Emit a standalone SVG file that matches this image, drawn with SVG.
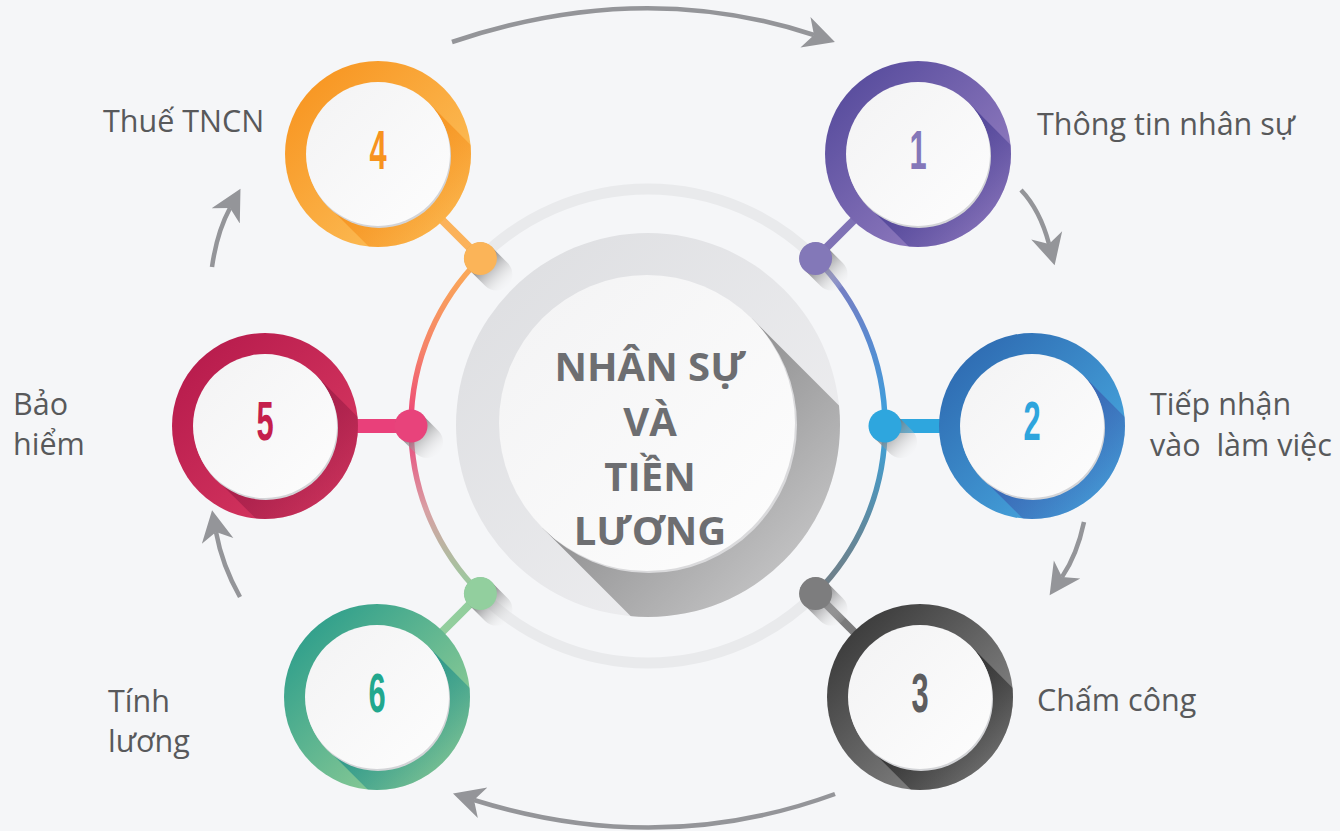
<svg xmlns="http://www.w3.org/2000/svg" width="1340" height="831" viewBox="0 0 1340 831">
  <style>
    .label { font-family: "Open Sans", "Liberation Sans", sans-serif; font-size: 30.5px; fill: #58595b; }
    .num { font-family: "Liberation Sans", "DejaVu Sans", sans-serif; font-weight: 700; font-size: 56px; text-anchor: middle; }
    .title { font-family: "Open Sans", "Liberation Sans", sans-serif; font-weight: 700; font-size: 40px; fill: #6d6e71; text-anchor: middle; }
    .face { fill: url(#faceGrad); }
    .rim { fill: #d3d4d7; }
    .arrow { fill: none; stroke: #949599; stroke-width: 4.5; marker-end: url(#ah); }
    .stem { stroke-width: 8; }
    .bar { stroke-width: 14; }
    .dotsh { stroke: url(#dotShadow); stroke-width: 32; stroke-linecap: round; }
  </style>
  <defs>
    <marker id="ah" markerUnits="userSpaceOnUse" markerWidth="34" markerHeight="34" viewBox="0 0 34 34" refX="9" refY="17" orient="auto">
      <path d="M0,1 L31,17 L0,33 L9,17 Z" fill="#949599"/>
    </marker>
    <clipPath id="ringClip"><circle r="93"/></clipPath>
    <clipPath id="hubClip"><circle cx="648" cy="425" r="192"/></clipPath>
    <linearGradient id="faceGrad" x1="0" y1="0" x2="1" y2="1">
      <stop offset="0" stop-color="#f3f3f4"/>
      <stop offset="1" stop-color="#fdfdfd"/>
    </linearGradient>
    <linearGradient id="dotShadow" gradientUnits="userSpaceOnUse" x1="0" y1="0" x2="30" y2="30">
      <stop offset="0" stop-color="#5e5e60" stop-opacity="0.9"/>
      <stop offset="1" stop-color="#ffffff" stop-opacity="0"/>
    </linearGradient>
    <linearGradient id="hubGrad" x1="0" y1="0" x2="1" y2="1">
      <stop offset="0" stop-color="#dcdde0"/>
      <stop offset="1" stop-color="#f1f1f3"/>
    </linearGradient>
    <linearGradient id="hubShadow" gradientUnits="userSpaceOnUse" x1="700" y1="380" x2="860" y2="540">
      <stop offset="0" stop-color="#909091"/>
      <stop offset="1" stop-color="#c9c9ca"/>
    </linearGradient>
    <linearGradient id="rightArc" gradientUnits="userSpaceOnUse" x1="0" y1="258" x2="0" y2="594">
      <stop offset="0" stop-color="#8279bd"/>
      <stop offset="0.25" stop-color="#5a8ad0"/>
      <stop offset="0.5" stop-color="#3ba3dd"/>
      <stop offset="0.8" stop-color="#5f8aa0"/>
      <stop offset="1" stop-color="#737d84"/>
    </linearGradient>
    <linearGradient id="leftArc" gradientUnits="userSpaceOnUse" x1="0" y1="258" x2="0" y2="594">
      <stop offset="0" stop-color="#fbae55"/>
      <stop offset="0.28" stop-color="#f5826a"/>
      <stop offset="0.5" stop-color="#ec4079"/>
      <stop offset="0.75" stop-color="#d8a0a4"/>
      <stop offset="1" stop-color="#93cf9e"/>
    </linearGradient>
    <!-- ring colours -->
    <linearGradient id="r1" x1="0" y1="0" x2="1" y2="1"><stop offset="0" stop-color="#4f4598"/><stop offset="1" stop-color="#a088c8"/></linearGradient>
    <linearGradient id="r2" x1="0" y1="0" x2="1" y2="1"><stop offset="0" stop-color="#2b62ab"/><stop offset="1" stop-color="#4cb4e8"/></linearGradient>
    <linearGradient id="r3" x1="0" y1="0" x2="1" y2="1"><stop offset="0" stop-color="#2e2e2e"/><stop offset="1" stop-color="#9a9a9a"/></linearGradient>
    <linearGradient id="r4" x1="0" y1="0" x2="1" y2="1"><stop offset="0" stop-color="#f7901a"/><stop offset="1" stop-color="#fdc765"/></linearGradient>
    <linearGradient id="r5" x1="0" y1="0" x2="1" y2="1"><stop offset="0" stop-color="#b3184a"/><stop offset="1" stop-color="#dc3c64"/></linearGradient>
    <linearGradient id="r6" x1="0" y1="0" x2="1" y2="1"><stop offset="0" stop-color="#1f978a"/><stop offset="1" stop-color="#a9d998"/></linearGradient>
    <!-- long shadows cast by the white faces onto the rings -->
    <linearGradient id="s1" gradientUnits="userSpaceOnUse" x1="0" y1="0" x2="66" y2="66"><stop offset="0" stop-color="#4a3f94" stop-opacity="0.9"/><stop offset="1" stop-color="#4a3f94" stop-opacity="0.3"/></linearGradient>
    <linearGradient id="s2" gradientUnits="userSpaceOnUse" x1="0" y1="0" x2="66" y2="66"><stop offset="0" stop-color="#3a5fb0" stop-opacity="0.9"/><stop offset="1" stop-color="#3a5fb0" stop-opacity="0.3"/></linearGradient>
    <linearGradient id="s3" gradientUnits="userSpaceOnUse" x1="0" y1="0" x2="66" y2="66"><stop offset="0" stop-color="#2a2a2a" stop-opacity="0.9"/><stop offset="1" stop-color="#2a2a2a" stop-opacity="0.35"/></linearGradient>
    <linearGradient id="s4" gradientUnits="userSpaceOnUse" x1="0" y1="0" x2="66" y2="66"><stop offset="0" stop-color="#f5901c" stop-opacity="0.9"/><stop offset="1" stop-color="#f5901c" stop-opacity="0.3"/></linearGradient>
    <linearGradient id="s5" gradientUnits="userSpaceOnUse" x1="0" y1="0" x2="66" y2="66"><stop offset="0" stop-color="#9c1c46" stop-opacity="0.85"/><stop offset="1" stop-color="#9c1c46" stop-opacity="0.3"/></linearGradient>
    <linearGradient id="s6" gradientUnits="userSpaceOnUse" x1="0" y1="0" x2="66" y2="66"><stop offset="0" stop-color="#23918a" stop-opacity="0.9"/><stop offset="1" stop-color="#23918a" stop-opacity="0.3"/></linearGradient>
  </defs>

  <rect width="1340" height="831" fill="#f5f6f8"/>

  <!-- hub ring with stems and dots -->
  <g id="hub-ring">
    <path d="M480.4,258.4 A237,237 0 0 1 815.6,258.4" fill="none" stroke="#e9eaec" stroke-width="11"/>
    <path d="M815.6,593.6 A237,237 0 0 1 480.4,593.6" fill="none" stroke="#e9eaec" stroke-width="11"/>
    <path d="M815.6,258.4 A237,237 0 0 1 815.6,593.6" fill="none" stroke="url(#rightArc)" stroke-width="5.5"/>
    <path d="M480.4,593.6 A237,237 0 0 1 480.4,258.4" fill="none" stroke="url(#leftArc)" stroke-width="5.5"/>

    <line class="stem" x1="815.6" y1="258.4" x2="880" y2="194" stroke="#7f72b5"/>
    <line class="bar" x1="885" y1="426" x2="950" y2="426" stroke="#2ea6de"/>
    <line class="stem" x1="815.6" y1="593.6" x2="880" y2="658" stroke="#7a7a7b"/>
    <line class="stem" x1="480.4" y1="258.4" x2="416" y2="194" stroke="#fbb25a"/>
    <line class="bar" x1="411" y1="426" x2="345" y2="426" stroke="#e9407a"/>
    <line class="stem" x1="480.4" y1="593.6" x2="416" y2="658" stroke="#92ce9d"/>

    <g transform="translate(815.6,258.4)"><line class="dotsh" x1="0" y1="0" x2="16" y2="16"/><circle r="16.5" fill="#8378b8"/></g>
    <g transform="translate(885,426)"><line class="dotsh" x1="0" y1="0" x2="16" y2="16"/><circle r="16.5" fill="#2ea6de"/></g>
    <g transform="translate(815.6,593.6)"><line class="dotsh" x1="0" y1="0" x2="16" y2="16"/><circle r="16.5" fill="#7d7d7e"/></g>
    <g transform="translate(480.4,258.4)"><line class="dotsh" x1="0" y1="0" x2="16" y2="16"/><circle r="16.5" fill="#fbb458"/></g>
    <g transform="translate(411,426)"><line class="dotsh" x1="0" y1="0" x2="16" y2="16"/><circle r="16.5" fill="#e8437b"/></g>
    <g transform="translate(480.4,593.6)"><line class="dotsh" x1="0" y1="0" x2="16" y2="16"/><circle r="16.5" fill="#92cf9e"/></g>
  </g>

  <!-- central disc -->
  <g id="center">
    <circle cx="648" cy="425" r="192" fill="url(#hubGrad)"/>
    <polygon points="751.7,318.3 1051.7,618.3 842.3,827.7 542.3,527.7" fill="url(#hubShadow)" clip-path="url(#hubClip)"/>
    <circle cx="649" cy="425" r="148" fill="#dadadc"/>
    <circle cx="647" cy="423" r="148" class="face"/>
    <text class="title" x="650" y="381">NHÂN SỰ</text>
    <text class="title" x="650" y="436">VÀ</text>
    <text class="title" x="650" y="491">TIỀN</text>
    <text class="title" x="650" y="545">LƯƠNG</text>
  </g>

  <!-- process nodes -->
  <g id="node-1">
    <g transform="translate(918,154)">
      <circle r="93" fill="url(#r1)"/>
      <polygon points="50.9,-50.9 130,28.2 28.2,130 -50.9,50.9" fill="url(#s1)" clip-path="url(#ringClip)"/>
      <circle class="rim" cx="1" cy="2" r="72"/>
      <circle class="face" r="72"/>
      <text class="num" transform="scale(0.55,1)" y="15" fill="#8477b9">1</text>
    </g>
    <text class="label" x="1037" y="135">Thông tin nhân sự</text>
  </g>

  <g id="node-2">
    <g transform="translate(1032,426)">
      <circle r="93" fill="url(#r2)"/>
      <polygon points="50.9,-50.9 130,28.2 28.2,130 -50.9,50.9" fill="url(#s2)" clip-path="url(#ringClip)"/>
      <circle class="rim" cx="1" cy="2" r="72"/>
      <circle class="face" r="72"/>
      <text class="num" transform="scale(0.55,1)" y="14" fill="#2ea5dd">2</text>
    </g>
    <text class="label" x="1150" y="415">Tiếp nhận</text>
    <text class="label" x="1150" y="456" xml:space="preserve">vào  làm việc</text>
  </g>

  <g id="node-3">
    <g transform="translate(920,697)">
      <circle r="93" fill="url(#r3)"/>
      <polygon points="50.9,-50.9 130,28.2 28.2,130 -50.9,50.9" fill="url(#s3)" clip-path="url(#ringClip)"/>
      <circle class="rim" cx="1" cy="2" r="72"/>
      <circle class="face" r="72"/>
      <text class="num" transform="scale(0.55,1)" y="15" fill="#5d5d5f">3</text>
    </g>
    <text class="label" x="1037" y="711">Chấm công</text>
  </g>

  <g id="node-4">
    <g transform="translate(378,154)">
      <circle r="93" fill="url(#r4)"/>
      <polygon points="50.9,-50.9 130,28.2 28.2,130 -50.9,50.9" fill="url(#s4)" clip-path="url(#ringClip)"/>
      <circle class="rim" cx="1" cy="2" r="72"/>
      <circle class="face" r="72"/>
      <text class="num" transform="scale(0.55,1)" y="15" fill="#f7931e">4</text>
    </g>
    <text class="label" x="103" y="132">Thuế TNCN</text>
  </g>

  <g id="node-5">
    <g transform="translate(265,426)">
      <circle r="93" fill="url(#r5)"/>
      <polygon points="50.9,-50.9 130,28.2 28.2,130 -50.9,50.9" fill="url(#s5)" clip-path="url(#ringClip)"/>
      <circle class="rim" cx="1" cy="2" r="72"/>
      <circle class="face" r="72"/>
      <text class="num" transform="scale(0.55,1)" y="14" fill="#c51f4c">5</text>
    </g>
    <text class="label" x="13" y="415">Bảo</text>
    <text class="label" x="13" y="455">hiểm</text>
  </g>

  <g id="node-6">
    <g transform="translate(377,697)">
      <circle r="93" fill="url(#r6)"/>
      <polygon points="50.9,-50.9 130,28.2 28.2,130 -50.9,50.9" fill="url(#s6)" clip-path="url(#ringClip)"/>
      <circle class="rim" cx="1" cy="2" r="72"/>
      <circle class="face" r="72"/>
      <text class="num" transform="scale(0.55,1)" y="15" fill="#22a88e">6</text>
    </g>
    <text class="label" x="108" y="712">Tính</text>
    <text class="label" x="108" y="752">lương</text>
  </g>

  <!-- cycle arrows -->
  <g id="connectors">
    <path class="arrow" d="M452,42 Q641,-22 814,35"/>
    <path class="arrow" d="M1021,190 Q1040,210 1049,244"/>
    <path class="arrow" d="M1084,522 Q1077,555 1062,577"/>
    <path class="arrow" d="M835,794 Q660,858 474,800"/>
    <path class="arrow" d="M240,597 Q222,565 216,532"/>
    <path class="arrow" d="M212,267 Q217,232 230,208"/>
  </g>
</svg>
